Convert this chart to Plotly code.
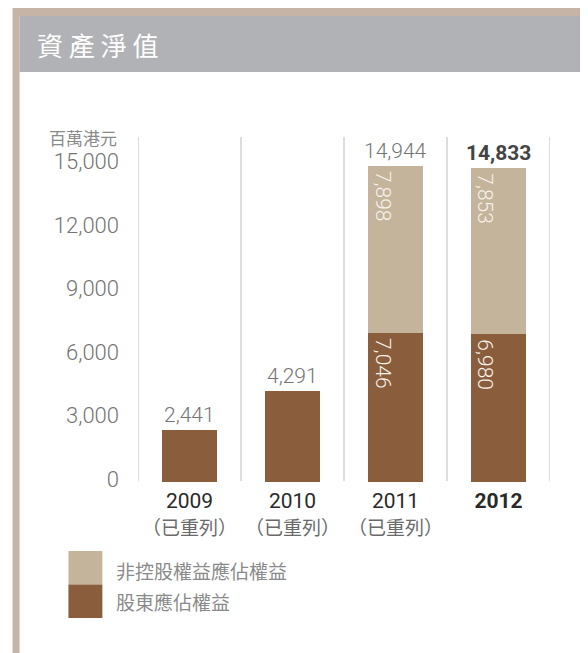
import plotly.graph_objects as go

# ---- data ----
years = ["2009", "2010", "2011", "2012"]
restated_note = ["（已重列）", "（已重列）", "（已重列）", ""]
shareholders_equity = [2441, 4291, 7046, 6980]
noncontrolling_equity = [None, None, 7898, 7853]
totals = [2441, 4291, 14944, 14833]
series_names = ["非控股權益應佔權益", "股東應佔權益"]
y_ticks = [0, 3000, 6000, 9000, 12000, 15000]
title_text = "資產淨值"
unit_text = "百萬港元"

# ---- style ----
W, H = 588, 653
OFF = 8  # page body margin
# plot area in window pixels
PL, PR, PT, PB = 137.7, 550.5, 137, 482
L, R, T, B = PL - OFF, W - (PR - OFF), PT - OFF, H - (PB - OFF)
DARK = "#8a5e3c"
LIGHT = "#c4b49c"
BORDER = "#c6b5a6"
BAND = "#b1b2b5"
NUM_FONT = "Roboto"
CJK_FONT = "Noto Sans CJK TC"

pw, ph = PR - PL, PB - PT


def px(xp):
    return (xp - PL) / pw


def py(yp):
    return (PB - yp) / ph


x = list(range(len(years)))

fig = go.Figure()
fig.add_trace(go.Bar(x=x, y=shareholders_equity, name=series_names[1],
                     marker=dict(color=DARK, line=dict(width=0)), hoverinfo="skip"))
fig.add_trace(go.Bar(x=x, y=noncontrolling_equity, name=series_names[0],
                     marker=dict(color=LIGHT, line=dict(width=0)), hoverinfo="skip"))

shapes = []
# frame
shapes.append(dict(type="rect", xref="paper", yref="paper", x0=px(12), x1=px(620),
                   y0=py(8), y1=py(720), fillcolor=BORDER, line=dict(width=0), layer="below"))
shapes.append(dict(type="rect", xref="paper", yref="paper", x0=px(19), x1=px(582),
                   y0=py(16), y1=py(720), fillcolor="white", line=dict(width=0), layer="below"))
shapes.append(dict(type="rect", xref="paper", yref="paper", x0=px(19), x1=px(582),
                   y0=py(16), y1=py(72), fillcolor=BAND, line=dict(width=0), layer="below"))
# separators
for i in range(len(years) + 1):
    shapes.append(dict(type="line", xref="x", yref="paper", x0=i - 0.5, x1=i - 0.5,
                       y0=py(481), y1=1, line=dict(color="#d2d2d2", width=1.5), layer="below"))
# legend squares
shapes.append(dict(type="rect", xref="paper", yref="paper", x0=px(68), x1=px(102),
                   y0=py(551), y1=py(584.5), fillcolor=LIGHT, line=dict(width=0)))
shapes.append(dict(type="rect", xref="paper", yref="paper", x0=px(68), x1=px(102),
                   y0=py(584.5), y1=py(618), fillcolor=DARK, line=dict(width=0)))

ann = []
ann.append(dict(text=" ".join(title_text), xref="paper", yref="paper", x=px(35), y=py(44),
                xanchor="left", yanchor="middle", showarrow=False,
                font=dict(family=CJK_FONT, size=26, color="white")))
ann.append(dict(text=unit_text, xref="paper", yref="paper", x=px(119), y=py(137),
                xanchor="right", yanchor="middle", showarrow=False,
                font=dict(family=CJK_FONT, size=17, color="#8a8a8a")))
# totals above bars
for i, tot in enumerate(totals):
    last = i == len(totals) - 1
    ann.append(dict(text=(f"<b>{tot:,}</b>" if last else f"{tot:,}"), x=i, y=tot,
                    xref="x", yref="y", xanchor="center", yanchor="bottom", yshift=1,
                    showarrow=False,
                    font=dict(family=NUM_FONT, size=21, color="#444444" if last else "#747474",
                              weight=700 if last else 300)))
# inside rotated labels
for i in range(len(years)):
    nc = noncontrolling_equity[i]
    if nc is None:
        continue
    sh = shareholders_equity[i]
    for val, top in ((sh, sh), (nc, sh + nc)):
        ann.append(dict(text=f"{val:,}", x=i, y=top, xref="x", yref="y",
                        xanchor="center", yanchor="top", xshift=-13, yshift=-3,
                        textangle=90, showarrow=False,
                        font=dict(family=NUM_FONT, size=21, color="#f7f2ea", weight=300)))
# legend text
ann.append(dict(text=series_names[0], xref="paper", yref="paper", x=px(114), y=py(570),
                xanchor="left", yanchor="middle", showarrow=False,
                font=dict(family=CJK_FONT, size=19, color="#8a8a8a")))
ann.append(dict(text=series_names[1], xref="paper", yref="paper", x=px(114), y=py(601),
                xanchor="left", yanchor="middle", showarrow=False,
                font=dict(family=CJK_FONT, size=19, color="#8a8a8a")))

ticktext = []
for i, yv in enumerate(years):
    top = f"<b>{yv}</b>" if i == len(years) - 1 else yv
    s = f"<span style='font-size:21px;color:#2a2a2a'>{top}</span>"
    if restated_note[i]:
        s += f"<br><span style='font-size:19px;color:#6a6a6a;font-family:{CJK_FONT}'>{restated_note[i]}</span>"
    ticktext.append(s)

fig.update_layout(
    width=W, height=H,
    margin=dict(l=L, r=R, t=T, b=B, pad=0),
    paper_bgcolor="white", plot_bgcolor="rgba(0,0,0,0)",
    barmode="stack", bargap=0.46, showlegend=False,
    shapes=shapes, annotations=ann,
    xaxis=dict(range=[-0.5, len(years) - 0.5], tickvals=x, ticktext=ticktext,
               showgrid=False, zeroline=False, showline=False, ticks="",
               ticklabelstandoff=4,
               tickfont=dict(family=NUM_FONT, size=21, color="#2a2a2a")),
    yaxis=dict(range=[0, 16310], tickvals=y_ticks, tickformat=",",
               showgrid=False, zeroline=False, showline=False, ticks="",
               ticklabelstandoff=18, ticklabelshift=-3,
               tickfont=dict(family=NUM_FONT, size=22, color="#747474", weight=300)),
)

fig.write_html("out.html")
